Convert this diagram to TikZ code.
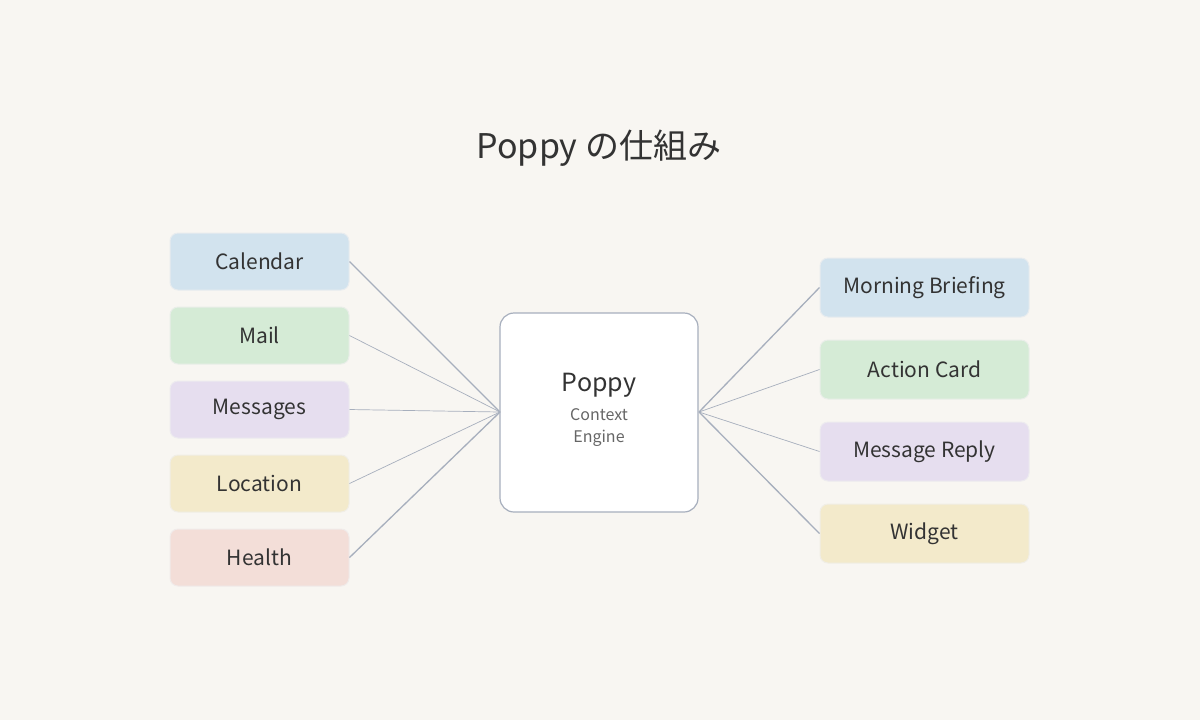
\documentclass[tikz,border=0pt]{standalone}
\usepackage{fontspec}
\setmainfont{Noto Sans CJK JP}
\begin{document}
\begin{tikzpicture}[x=0.5pt,y=-0.5pt,
  box/.style={draw=#1!85!black!30!white, fill=#1, rounded corners=4pt, line width=0.5pt, text=txt, font=\fontsize{10.5}{12}\selectfont, inner sep=0pt},
  lbox/.style={box=#1, minimum width=89.5pt, minimum height=28.5pt},
  rbox/.style={box=#1, minimum width=104.5pt, minimum height=29.5pt},
  thick link/.style={draw=lnk, line width=0.65pt},
  thin link/.style={draw=lnk, line width=0.35pt}]
\definecolor{bg}{HTML}{F8F6F2}
\definecolor{txt}{HTML}{333333}
\definecolor{lnk}{HTML}{A7AFBD}
\definecolor{cblue}{HTML}{D2E3EE}
\definecolor{cgreen}{HTML}{D5EBD6}
\definecolor{cpurple}{HTML}{E6DEEF}
\definecolor{cyellow}{HTML}{F3EACB}
\definecolor{cred}{HTML}{F3DED8}
\fill[bg] (0,0) rectangle (1200,720);
\useasboundingbox (0,0) rectangle (1200,720);
\node[text=txt, font=\fontsize{17}{20}\selectfont] (title) at (599,148) {Poppy の仕組み};
\node[draw=lnk, fill=white, rounded corners=7pt, line width=0.6pt, minimum width=99pt, minimum height=99.5pt] (core) at (599,412.5) {};
\node[text=txt, font=\fontsize{12.5}{14}\selectfont] (cname) at (599,385) {Poppy};
\node[text=txt!75, font=\fontsize{8}{11}\selectfont, align=center] (csub) at (599,428) {Context\\Engine};
\coordinate (cw) at (500,412);
\coordinate (ce) at (699,412);
\node[lbox=cblue] (cal) at (259.5,261.5) {Calendar};
\node[lbox=cgreen] (mail) at (259.5,335.5) {Mail};
\node[lbox=cpurple] (msg) at (259.5,409.5) {Messages};
\node[lbox=cyellow] (loc) at (259.5,483.5) {Location};
\node[lbox=cred] (hea) at (259.5,557.5) {Health};
\node[rbox=cblue] (mb) at (924.5,287.5) {Morning Briefing};
\node[rbox=cgreen] (ac) at (924.5,369.5) {Action Card};
\node[rbox=cpurple] (mr) at (924.5,451.5) {Message Reply};
\node[rbox=cyellow] (wd) at (924.5,533.5) {Widget};
\draw[thick link] (cal.east) -- (cw);
\draw[thin link] (mail.east) -- (cw);
\draw[thin link] (msg.east) -- (cw);
\draw[thin link] (loc.east) -- (cw);
\draw[thick link] (hea.east) -- (cw);
\draw[thick link] (ce) -- (mb.west);
\draw[thin link] (ce) -- (ac.west);
\draw[thin link] (ce) -- (mr.west);
\draw[thick link] (ce) -- (wd.west);
\end{tikzpicture}
\end{document}
